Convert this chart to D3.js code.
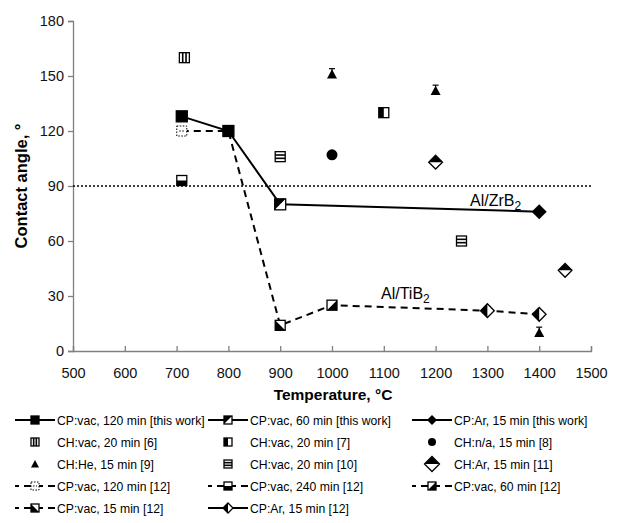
<!DOCTYPE html>
<html>
<head>
<meta charset="utf-8">
<script src="https://cdn.jsdelivr.net/npm/d3@7"></script>
<style>
  body { margin: 0; background: #fff; }
  svg { font-family: "Liberation Sans", Arial, sans-serif; }
</style>
</head>
<body>
<svg id="chart" width="624" height="523"></svg>
<script>
// Al/ZrB2 and Al/TiB2 trend lines
const zrLineT = [710, 800, 900, 1400];
const zrLineA = [128, 120, 80, 76];
const tiLineT = [710, 800, 900, 1000, 1300, 1400];
const tiLineA = [120, 120, 14, 25, 22, 20];

// series: temperatures and contact angles
const seriesNames = [
  'CP:vac, 120 min [this work]', 'CP:vac, 60 min [this work]', 'CP:Ar, 15 min [this work]',
  'CH:vac, 20 min [6]', 'CH:vac, 20 min [7]', 'CH:n/a, 15 min [8]',
  'CH:He, 15 min [9]', 'CH:vac, 20 min [10]', 'CH:Ar, 15 min [11]',
  'CP:vac, 120 min [12]', 'CP:vac, 240 min [12]', 'CP:vac, 60 min [12]',
  'CP:vac, 15 min [12]', 'CP:Ar, 15 min [12]'
];
const seriesT = [
  [710, 800], [900], [1400],
  [715], [1100], [1000],
  [1000, 1200, 1400], [900, 1250], [1200, 1450],
  [710], [710], [1000],
  [900], [1300, 1400]
];
const seriesA = [
  [128, 120], [80], [76],
  [160], [130], [107],
  [151, 142, 10], [106, 60], [103, 44],
  [120], [93], [25],
  [14], [22, 20]
];
const heErr = [3, 3, 3];

const xTicks = [500, 600, 700, 800, 900, 1000, 1100, 1200, 1300, 1400, 1500];
const yTicks = [0, 30, 60, 90, 120, 150, 180];

// look of each series
const markerType = ['sqFill', 'sqDiagTL', 'diaFill', 'sqVbars', 'sqLeft', 'circle',
  'tri', 'sqHbars', 'diaTop', 'sqDotted', 'sqBottom', 'sqDiagBR', 'sqDiagBL', 'diaLeft'];
const legendLine = ['solid', 'solid', 'solid', null, null, null, null, null, null,
  'dash', 'dash', 'dash', 'dash', 'solid'];

const svg = d3.select('#chart');
const x = d3.scaleLinear().domain([500, 1500]).range([73, 591]);
const y = d3.scaleLinear().domain([0, 180]).range([351, 21]);

// axes
const axisColor = '#808080';
const yAxis = svg.append('g')
  .attr('transform', 'translate(73,0)')
  .call(d3.axisLeft(y).tickValues(yTicks).tickSize(5).tickPadding(4));
const xAxis = svg.append('g')
  .attr('transform', 'translate(0,351)')
  .call(d3.axisBottom(x).tickValues(xTicks).tickFormat(d3.format('d')).tickSize(-5).tickPadding(17));
[xAxis, yAxis].forEach(a => {
  a.select('.domain').attr('stroke', axisColor).attr('stroke-width', 1.3);
  a.selectAll('.tick line').attr('stroke', axisColor).attr('stroke-width', 1.3);
  a.selectAll('text').attr('font-size', 14.5).attr('fill', '#111')
    .attr('font-family', '"Liberation Sans", Arial, sans-serif');
});

svg.append('text').attr('x', 333).attr('y', 400).attr('text-anchor', 'middle')
  .attr('font-size', 15.5).attr('font-weight', 'bold').text('Temperature, °C');
svg.append('text').attr('transform', 'translate(27,186) rotate(-90)')
  .attr('text-anchor', 'middle').attr('font-size', 16.5).attr('font-weight', 'bold')
  .text('Contact angle, °');

// 90 degree reference
svg.append('line').attr('x1', x(500)).attr('x2', x(1500)).attr('y1', y(90)).attr('y2', y(90))
  .attr('stroke', '#000').attr('stroke-width', 1.6).attr('stroke-dasharray', '2,2');

const line = d3.line().x(d => x(d[0])).y(d => y(d[1]));
svg.append('path').datum(d3.zip(tiLineT, tiLineA)).attr('d', line)
  .attr('fill', 'none').attr('stroke', '#000').attr('stroke-width', 2).attr('stroke-dasharray', '7,5');
svg.append('path').datum(d3.zip(zrLineT, zrLineA)).attr('d', line)
  .attr('fill', 'none').attr('stroke', '#000').attr('stroke-width', 2);

function marker(g, type, s) {
  const h = s / 2;
  const sq = () => g.append('rect').attr('x', -h).attr('y', -h).attr('width', s).attr('height', s)
    .attr('fill', '#fff').attr('stroke', '#000').attr('stroke-width', 1.3);
  const poly = pts => g.append('polygon').attr('points', pts.map(p => p.join(',')).join(' ')).attr('fill', '#000');
  const dia = [[0, -h * 1.25], [h * 1.25, 0], [0, h * 1.25], [-h * 1.25, 0]];
  switch (type) {
    case 'sqFill': sq().attr('fill', '#000'); break;
    case 'sqDiagTL': sq(); poly([[-h, -h], [h, -h], [-h, h]]); break;
    case 'sqDiagBR': sq(); poly([[h, -h], [h, h], [-h, h]]); break;
    case 'sqDiagBL': sq(); poly([[-h, -h], [h, h], [-h, h]]); break;
    case 'sqLeft': sq(); poly([[-h, -h], [0, -h], [0, h], [-h, h]]); break;
    case 'sqBottom': sq(); poly([[-h, 0], [h, 0], [h, h], [-h, h]]); break;
    case 'sqVbars': sq();
      [-h / 3, h / 3].forEach(v => g.append('line').attr('x1', v).attr('x2', v).attr('y1', -h).attr('y2', h)
        .attr('stroke', '#000').attr('stroke-width', 1.6));
      break;
    case 'sqHbars': sq();
      [-h / 3, h / 3].forEach(v => g.append('line').attr('y1', v).attr('y2', v).attr('x1', -h).attr('x2', h)
        .attr('stroke', '#000').attr('stroke-width', 1.6));
      break;
    case 'sqDotted': sq().attr('stroke-dasharray', '1.5,1.5').attr('stroke-width', 1);
      g.append('line').attr('x1', -h / 2).attr('x2', h / 2).attr('y1', 0).attr('y2', 0)
        .attr('stroke', '#000').attr('stroke-width', 1.2).attr('stroke-dasharray', '1.5,1.5');
      break;
    case 'circle': g.append('circle').attr('r', h).attr('fill', '#000'); break;
    case 'tri': poly([[0, -h], [h, h * 0.85], [-h, h * 0.85]]); break;
    case 'diaFill': poly(dia); break;
    case 'diaTop':
      g.append('polygon').attr('points', dia.map(p => p.join(',')).join(' '))
        .attr('fill', '#fff').attr('stroke', '#000').attr('stroke-width', 1.3);
      poly([[0, -h * 1.25], [h * 1.25, 0], [-h * 1.25, 0]]);
      break;
    case 'diaLeft':
      g.append('polygon').attr('points', dia.map(p => p.join(',')).join(' '))
        .attr('fill', '#fff').attr('stroke', '#000').attr('stroke-width', 1.3);
      poly([[0, -h * 1.25], [0, h * 1.25], [-h * 1.25, 0]]);
      break;
  }
}

const plotSize = [11, 11, 12, 10, 10, 11, 10, 10, 11, 10, 10, 10, 10, 11];
const drawOrder = [3, 4, 5, 6, 7, 8, 10, 9, 11, 12, 13, 1, 2, 0];
drawOrder.forEach(i => {
  seriesT[i].forEach((t, j) => {
    const g = svg.append('g').attr('transform', `translate(${x(t)},${y(seriesA[i][j])})`);
    if (markerType[i] === 'tri') {
      const top = y(seriesA[i][j] + heErr[j]) - y(seriesA[i][j]);
      g.append('line').attr('x1', 0).attr('x2', 0).attr('y1', 0).attr('y2', top).attr('stroke', '#000').attr('stroke-width', 1.2);
      g.append('line').attr('x1', -3).attr('x2', 3).attr('y1', top).attr('y2', top).attr('stroke', '#000').attr('stroke-width', 1.2);
    }
    marker(g, markerType[i], plotSize[i]);
  });
});

// curve labels
const zr = svg.append('text').attr('x', 470).attr('y', 206).attr('font-size', 16);
zr.append('tspan').text('Al/ZrB');
zr.append('tspan').attr('font-size', 12).attr('dy', 4).text('2');
const ti = svg.append('text').attr('x', 381).attr('y', 299).attr('font-size', 16);
ti.append('tspan').text('Al/TiB');
ti.append('tspan').attr('font-size', 12).attr('dy', 4).text('2');

// legend
const colMarkerX = [35, 228, 432];
const rowY = [420, 442, 464, 486, 508];
seriesNames.forEach((name, i) => {
  const cx = colMarkerX[i % 3], cy = rowY[Math.floor(i / 3)];
  const g = svg.append('g').attr('transform', `translate(${cx},${cy})`);
  if (legendLine[i]) {
    g.append('line').attr('x1', -20).attr('x2', 20).attr('y1', 0).attr('y2', 0)
      .attr('stroke', '#000').attr('stroke-width', 2)
      .attr('stroke-dasharray', legendLine[i] === 'dash' ? '7,5' : null)
      .attr('stroke-dashoffset', legendLine[i] === 'dash' ? 3 : null);
  }
  const sz = markerType[i] === 'diaTop' ? 12 : 8;
  marker(g, markerType[i], sz);
  svg.append('text').attr('x', cx + 22).attr('y', cy + 5).attr('font-size', 12.2).text(name);
});
</script>
</body>
</html>
